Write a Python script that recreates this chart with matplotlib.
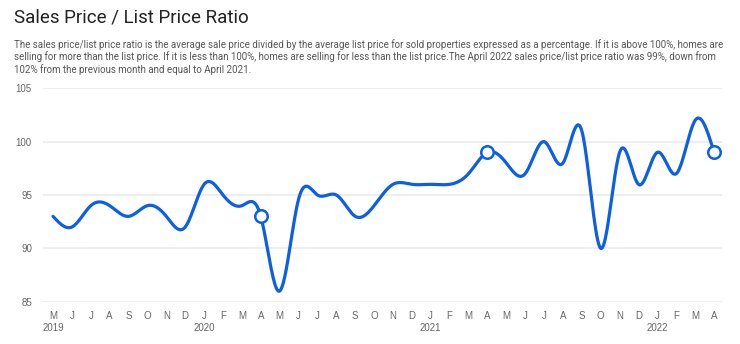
import numpy as np
import matplotlib
matplotlib.use("Agg")
import matplotlib.pyplot as plt

# Monthly sales price / list price ratio (%), May 2019 - April 2022
months = ["M", "J", "J", "A", "S", "O", "N", "D",
          "J", "F", "M", "A", "M", "J", "J", "A", "S", "O", "N", "D",
          "J", "F", "M", "A", "M", "J", "J", "A", "S", "O", "N", "D",
          "J", "F", "M", "A"]
years = {0: "2019", 8: "2020", 20: "2021", 32: "2022"}
ratio = [93, 92, 94, 94, 93, 94, 93, 92,
         96, 95, 94, 93, 86, 94.6, 95, 95, 93, 94, 96, 96,
         96, 96, 97, 99, 98, 97, 100, 98, 101, 90, 99, 96,
         99, 97, 102, 99]
highlight = [11, 23, 35]          # April of each year
yticks = [85, 90, 95, 100, 105]

title = "Sales Price / List Price Ratio"
desc_lines = [
    "The sales price/list price ratio is the average sale price divided by the average list price for sold properties expressed as a percentage. If it is above 100%, homes are",
    "selling for more than the list price. If it is less than 100%, homes are selling for less than the list price.The April 2022 sales price/list price ratio was 99%, down from",
    "102% from the previous month and equal to April 2021.",
]

BLUE = "#0a5fe6"
GRID = "#ebebeb"
TICK = "#666666"


def natural_spline(y, samples=40):
    """Natural cubic spline through equally spaced points."""
    y = np.asarray(y, dtype=float)
    n = len(y)
    A = np.zeros((n, n))
    b = np.zeros(n)
    A[0, 0] = A[-1, -1] = 1.0
    for i in range(1, n - 1):
        A[i, i - 1], A[i, i], A[i, i + 1] = 1.0, 4.0, 1.0
        b[i] = 6.0 * (y[i + 1] - 2 * y[i] + y[i - 1])
    M = np.linalg.solve(A, b)
    xs, ys = [], []
    for i in range(n - 1):
        t = np.linspace(0, 1, samples, endpoint=False)
        s = ((1 - t) * y[i] + t * y[i + 1]
             + ((1 - t) ** 3 - (1 - t)) * M[i] / 6
             + (t ** 3 - t) * M[i + 1] / 6)
        xs.append(i + t)
        ys.append(s)
    xs.append([n - 1])
    ys.append([y[-1]])
    return np.concatenate(xs), np.concatenate(ys)


fig = plt.figure(figsize=(7.4, 3.44), dpi=100)
fig.patch.set_facecolor("white")
renderer = fig.canvas.get_renderer()

fig.text(14 / 740, 1 - 18 / 344, title, family=["Roboto", "DejaVu Sans"],
         fontsize=13.5, color="#222222", va="center", ha="left")

# Description paragraph: first line sized to span the text column (14px..727px)
desc_texts = []
for k, line in enumerate(desc_lines):
    t = fig.text(14 / 740, 1 - (44.5 + 12.4 * k) / 344, line,
                 family=["Roboto", "DejaVu Sans"],
                 fontsize=7.2, color="#555555", va="center", ha="left")
    desc_texts.append(t)
w0 = desc_texts[0].get_window_extent(renderer).width
size = 7.2 * 713.0 / w0
for t in desc_texts:
    t.set_fontsize(size)

ax = fig.add_axes([43 / 740, (344 - 301.7) / 344, (722 - 43) / 740, (301.7 - 88.3) / 344])
x = np.arange(len(ratio))
sx, sy = natural_spline(ratio)
ax.plot(sx, sy, color=BLUE, lw=2.3, solid_capstyle="round", zorder=3, clip_on=False)
ax.plot(x[highlight], np.asarray(ratio)[highlight], ls="none", marker="o", ms=9,
        mfc="white", mec=BLUE, mew=1.8, zorder=4, clip_on=False)

ax.set_xlim(-0.53, 35.42)
ax.set_ylim(85, 105)
ax.set_yticks(yticks)
ax.set_yticklabels([str(v) for v in yticks])
ax.yaxis.grid(True, color=GRID, lw=1.2)
ax.set_axisbelow(True)
for s in ax.spines.values():
    s.set_visible(False)

ax.set_xticks(x)
ax.set_xticklabels([m + ("\n" + years[i] if i in years else "") for i, m in enumerate(months)],
                   linespacing=1.15)
ax.tick_params(axis="both", length=0, colors=TICK, labelsize=7)
ax.tick_params(axis="x", pad=7)
ax.tick_params(axis="y", pad=8)
for lab in ax.get_xticklabels() + ax.get_yticklabels():
    lab.set_family(["Liberation Sans", "DejaVu Sans"])
for lab in ax.get_xticklabels():
    lab.set_va("top")

fig.savefig("out.png", dpi=100, facecolor="white")
